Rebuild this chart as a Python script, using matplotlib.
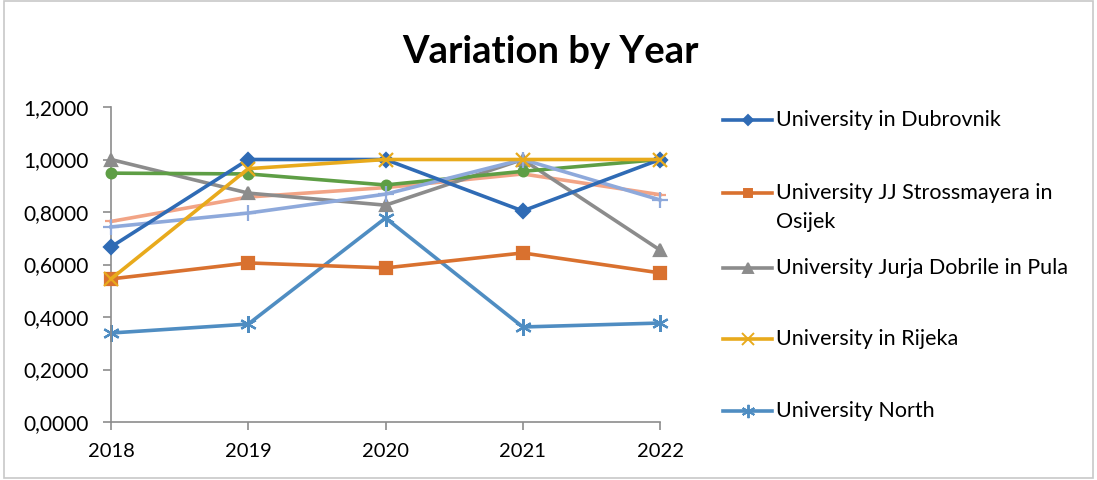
import matplotlib.pyplot as plt
from matplotlib.lines import Line2D
from matplotlib.patches import Rectangle
from matplotlib.ticker import FuncFormatter

plt.rcParams['font.family'] = ['Lato', 'DejaVu Sans']

years = [2018, 2019, 2020, 2021, 2022]

series_names = [
    'University in Dubrovnik',
    'University JJ Strossmayera in\nOsijek',
    'University Jurja Dobrile in Pula',
    'University in Rijeka',
    'University North',
    'Series 6',
    'Series 7',
    'Series 8',
]
dubrovnik = [0.667, 1.000, 1.000, 0.804, 1.000]
osijek = [0.545, 0.606, 0.587, 0.644, 0.568]
pula = [1.000, 0.872, 0.826, 1.000, 0.655]
rijeka = [0.545, 0.965, 1.000, 1.000, 1.000]
north = [0.339, 0.373, 0.777, 0.362, 0.377]
green = [0.948, 0.945, 0.903, 0.955, 1.000]
salmon = [0.764, 0.857, 0.893, 0.945, 0.866]
lightblue = [0.743, 0.796, 0.868, 1.000, 0.846]

values = [dubrovnik, osijek, pula, rijeka, north, green, salmon, lightblue]
colors = ['#2F6BB5', '#D9712F', '#8C8C8C', '#E8AA1C', '#4F8DC2',
          '#5E9E45', '#F2A486', '#8EA9DB']
markers = ['D', 's', '^', 'x', (6, 2, 0), 'o', '_', '+']
msizes = [7, 8, 9, 10, 12, 7, 9, 12]
zorders = [6, 3, 4, 7, 2, 5, 3, 5]

fig = plt.figure(figsize=(10.97, 4.8), dpi=100)
fig.add_artist(Rectangle((0.004, 0.004), 0.992, 0.994, transform=fig.transFigure,
                         fill=False, edgecolor='#c8c8c8', lw=1.2))
ax = fig.add_axes([111 / 1097, 1 - 422 / 480, 549 / 1097, 315 / 480])

for vals, c, m, ms, z in zip(values, colors, markers, msizes, zorders):
    ax.plot(years, vals, color=c, lw=2.6, marker=m, ms=ms, mew=1.6,
            mfc=c, mec=c, zorder=z, clip_on=False)

ax.set_xlim(2018, 2022)
ax.set_ylim(0, 1.2)
ax.set_xticks(years)
ax.set_yticks([0, 0.2, 0.4, 0.6, 0.8, 1.0, 1.2])
ax.yaxis.set_major_formatter(FuncFormatter(lambda v, p: f'{v:.4f}'.replace('.', ',')))
for s in ['top', 'right']:
    ax.spines[s].set_visible(False)
for s in ['left', 'bottom']:
    ax.spines[s].set_color('#8c8c8c')
    ax.spines[s].set_linewidth(1.2)
ax.tick_params(axis='both', colors='#8c8c8c', length=6, width=1.2,
               labelcolor='black')
ax.tick_params(axis='y', labelsize=15, pad=10)
ax.tick_params(axis='x', labelsize=14.5, pad=9)

fig.text(0.5015, 1 - 52 / 480, 'Variation by Year', ha='center', va='center',
         fontsize=27.5, fontweight='bold')

# legend (first five series)
leg_y = [120, 193, 268, 339, 411]
for i, yy in enumerate(leg_y):
    yf = 1 - yy / 480
    fig.add_artist(Line2D([723 / 1097, 772 / 1097], [yf, yf], transform=fig.transFigure,
                          color=colors[i], lw=2.6))
    fig.add_artist(Line2D([747.5 / 1097], [yf], transform=fig.transFigure,
                          color=colors[i], marker=markers[i], ms=msizes[i] * 0.8,
                          mew=1.4, mfc=colors[i], mec=colors[i], lw=0))
    fig.text(776 / 1097, yf, series_names[i].split('\n')[0], ha='left',
             va='center', fontsize=15.5)
    if '\n' in series_names[i]:
        fig.text(776 / 1097, 1 - (yy + 29) / 480, series_names[i].split('\n')[1],
                 ha='left', va='center', fontsize=15.5)

fig.savefig('out.png', dpi=100)
